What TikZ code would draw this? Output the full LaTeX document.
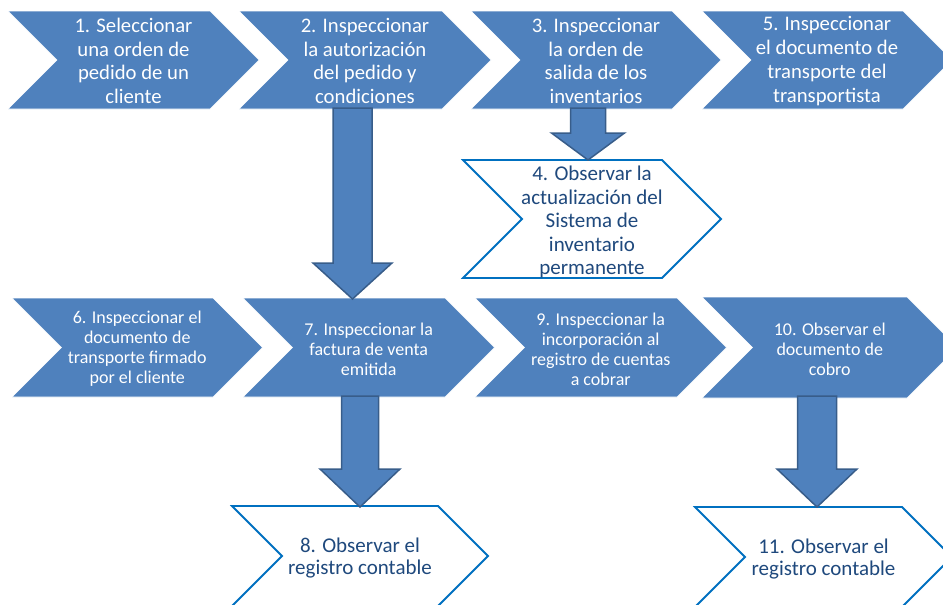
\documentclass[tikz,border=0pt]{standalone}
\usepackage{fontspec}
\setmainfont{Carlito}
\usetikzlibrary{calc}
\definecolor{cfill}{RGB}{79,129,189}
\definecolor{cedge}{RGB}{56,93,138}
\definecolor{oedge}{RGB}{0,112,192}
\definecolor{otext}{RGB}{31,73,125}
\tikzset{
  solidchev/.style={fill=cfill, draw=white, line width=0.6pt, line join=miter},
  openchev/.style={fill=white, draw=oedge, line width=1.8pt, line join=miter},
  toptext/.style={text=white, align=center, inner sep=0pt, yshift=-1pt, font=\fontsize{20.7}{23.7}\selectfont},
  midtext/.style={text=white, align=center, inner sep=0pt, yshift=-1.5pt, font=\fontsize{18}{20}\selectfont},
  opentext/.style={text=otext, align=center, inner sep=0pt, yshift=-3pt, font=\fontsize{21}{23.5}\selectfont},
  lowtext/.style={text=otext, align=center, inner sep=0pt, yshift=-2.5pt, font=\fontsize{21}{22}\selectfont},
  barrow/.style={fill=cfill, draw=cedge, line width=1.5pt, line join=miter}
}
% #1 x, #2 y, #3 top width, #4 height, #5 shape style, #6 text style, #7 name, #8 text
\newcommand{\flowchev}[8]{%
  \path[#5] (#1,#2) -- ({#1+#3},#2) -- ({#1+#3+#4/2},{#2+#4/2}) -- ({#1+#3},{#2+#4})
     -- (#1,{#2+#4}) -- ({#1+#4/2},{#2+#4/2}) -- cycle;
  \node[#6] (#7) at ({#1+(#3+#4/2)/2},{#2+#4/2}) {#8};}
% #1 start coord, #2 tip coord, #3 shaft half width, #4 head half width, #5 head length
\newcommand{\blockdown}[5]{%
  \draw[barrow] ($(#1)+(-#3,0)$) -- ($(#1)+(#3,0)$) -- ($(#2)+(#3,-#5)$) -- ($(#2)+(#4,-#5)$)
     -- (#2) -- ($(#2)+(-#4,-#5)$) -- ($(#2)+(-#3,-#5)$) -- cycle;}
\begin{document}
\begin{tikzpicture}[x=1pt,y=-1pt]
\useasboundingbox (0,0) rectangle (943,605);
\clip (0,0) rectangle (943,605);
% top row
\flowchev{8}{11}{202}{98}{solidchev}{toptext}{c1}{1. Seleccionar\\una orden de\\pedido de un\\cliente}
\flowchev{239}{11}{203}{98}{solidchev}{toptext}{c2}{2. Inspeccionar\\la autorización\\del pedido y\\condiciones}
\flowchev{471}{11}{201}{98}{solidchev}{toptext}{c3}{3. Inspeccionar\\la orden de\\salida de los\\inventarios}
\flowchev{702}{11}{201}{98}{solidchev}{toptext}{c5}{5. Inspeccionar\\el documento de\\transporte del\\transportista}
% step 4
\flowchev{463}{160}{199}{118}{openchev}{opentext}{c4}{4. Observar la\\actualización del\\Sistema de\\inventario\\permanente}
% second row
\flowchev{12}{298}{201}{99}{solidchev}{midtext}{c6}{6. Inspeccionar el\\documento de\\transporte firmado\\por el cliente}
\flowchev{243}{298}{202}{99}{solidchev}{midtext}{c7}{7. Inspeccionar la\\factura de venta\\emitida}
\flowchev{475}{298}{202}{99}{solidchev}{midtext}{c9}{9. Inspeccionar la\\incorporación al\\registro de cuentas\\a cobrar}
\flowchev{702}{297}{205}{101}{solidchev}{midtext}{c10}{10. Observar el\\documento de\\cobro}
% bottom row
\flowchev{232}{506}{206}{100}{openchev}{lowtext}{c8}{8. Observar el\\registro contable}
\flowchev{695}{507}{207}{100}{openchev}{lowtext}{c11}{11. Observar el\\registro contable}
% block arrows
\coordinate (a27s) at (352.5,108);
\coordinate (a27e) at (352.5,299);
\coordinate (a34s) at (588,108);
\coordinate (a34e) at (588,160);
\coordinate (a78s) at (360,396);
\coordinate (a78e) at (360,507);
\coordinate (a1011s) at (817,396);
\coordinate (a1011e) at (817,507);
\blockdown{a27s}{a27e}{19.5}{39.5}{36}
\blockdown{a34s}{a34e}{17.5}{36.5}{27}
\blockdown{a78s}{a78e}{18.5}{40}{38}
\blockdown{a1011s}{a1011e}{19.5}{40}{38}
\end{tikzpicture}
\end{document}
